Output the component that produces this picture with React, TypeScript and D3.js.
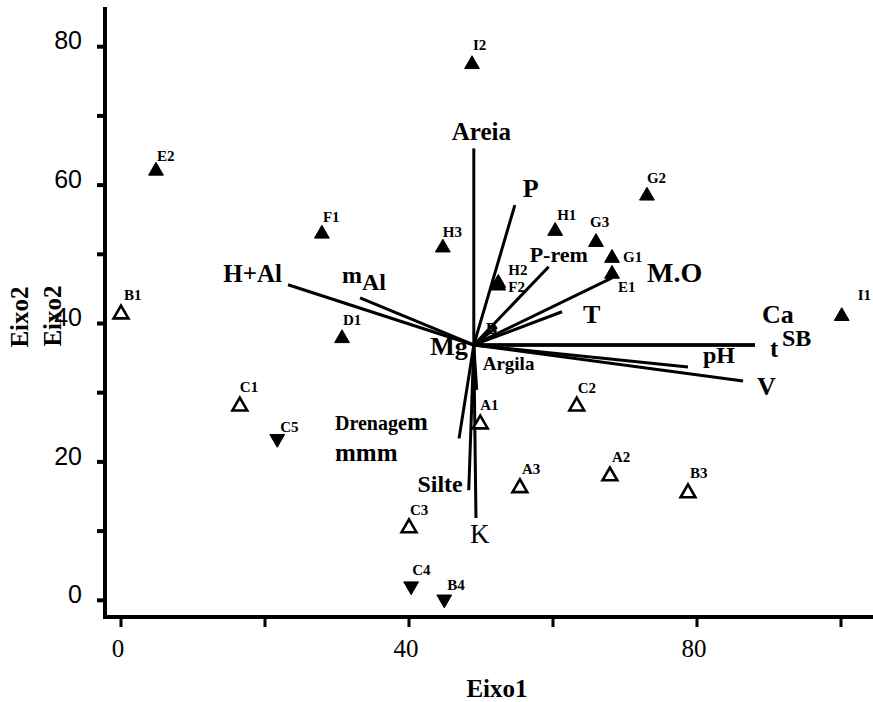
import React from "react";
import * as d3 from "d3";

// ---- data ----
const pointNames = ["E2", "I2", "F1", "H3", "H1", "G2", "G3", "G1", "E1", "H2", "F2", "I1", "D1",
  "B1", "C1", "A1", "C2", "A2", "B3", "A3", "C3", "C5", "C4", "B4"];
const pointX = [4.86, 48.75, 27.9, 44.7, 60.3, 73.05, 65.97, 68.2, 68.2, 52.4, 52.4, 100.1, 30.7,
  0.0, 16.5, 49.9, 63.3, 67.9, 78.75, 55.4, 40.0, 21.7, 40.3, 44.9];
const pointY = [62.2, 77.6, 53.1, 51.1, 53.5, 58.6, 51.9, 49.6, 47.3, 46.0, 45.6, 41.2, 38.0,
  41.5, 28.2, 25.6, 28.2, 18.1, 15.65, 16.4, 10.6, 23.2, 1.9, 0.0];
const pointGroup = ["up", "up", "up", "up", "up", "up", "up", "up", "up", "up", "up", "up", "up",
  "open", "open", "open", "open", "open", "open", "open", "open", "down", "down", "down"];

const origin = [49.0, 36.9];
const vectorNames = ["Areia", "P", "P-rem", "M.O", "T", "B", "Ca", "SB", "t", "pH", "V", "H+Al", "mAl",
  "Mg", "Argila", "Drenagem", "Silte", "K"];
const vectorX = [49.0, 54.7, 59.4, 68.2, 61.25, 52.2, 88.05, 88.05, 88.05, 78.75, 86.4, 23.2, 33.2,
  49.0, 49.4, 46.95, 48.3, 49.3];
const vectorY = [65.3, 57.1, 48.2, 46.6, 41.7, 39.5, 36.9, 36.9, 36.9, 33.7, 31.7, 45.6, 43.7,
  36.9, 30.4, 23.4, 15.9, 11.9];

const xTicks = [0, 20, 40, 60, 80, 100];
const xTickLabels = ["0", "", "40", "", "80", ""];
const yTicks = [0, 10, 20, 30, 40, 50, 60, 70, 80];
const yTickLabels = ["0", "", "20", "", "40", "", "60", "", "80"];
const xTitle = "Eixo1";
const yTitle = "Eixo2";

// ---- styles (pixel offsets for labels) ----
const pointLabelOffsets: Record<string, [number, number]> = {
  E2: [1, -9], I2: [1, -13], F1: [1, -11], H3: [0, -10], H1: [2, -10], G2: [0, -12],
  G3: [-6, -14], G1: [11, 5], E1: [6, 19], H2: [10, -7], F2: [10, 7], I1: [16, -15],
  D1: [1, -12], B1: [3, -13], C1: [0, -13], A1: [0, -13], C2: [1, -12], A2: [2, -13],
  B3: [2, -14], A3: [2, -13], C3: [1, -12], C5: [3, -8], C4: [1, -12], B4: [3, -10],
};
const vecLabelStyle: Record<string, { dx: number; dy: number; size: number; anchor?: string; weight?: string }> = {
  Areia: { dx: -22, dy: -8, size: 25 },
  P: { dx: 8, dy: -8, size: 26 },
  "P-rem": { dx: -19, dy: -5, size: 22 },
  "M.O": { dx: 35, dy: 4, size: 28 },
  T: { dx: 21, dy: 11, size: 26 },
  B: { dx: -11, dy: 7, size: 17 },
  Ca: { dx: 7, dy: -22, size: 26 },
  SB: { dx: 27, dy: 1, size: 24 },
  t: { dx: 15, dy: 12, size: 25 },
  pH: { dx: 15, dy: -4, size: 24 },
  V: { dx: 14, dy: 14, size: 26 },
  "H+Al": { dx: -6, dy: -3, size: 25, anchor: "end" },
  mAl: { dx: -18, dy: -15, size: 24 },
  Mg: { dx: -6, dy: 10, size: 26, anchor: "end" },
  Argila: { dx: 6, dy: -20, size: 19 },
  Drenagem: { dx: -124, dy: -8, size: 20 },
  Silte: { dx: -6, dy: 2, size: 24, anchor: "end" },
  K: { dx: -6, dy: 25, size: 27, weight: "normal" },
};

const W = 873;
const H = 702;
const FONT = "'Liberation Serif', 'DejaVu Serif', serif";

export default function App() {
  const x = d3.scaleLinear().domain([0, 100]).range([121, 841]);
  const y = d3.scaleLinear().domain([0, 80]).range([600.3, 46.7]);
  const axisX = 105;
  const axisY = 617;

  const tri = d3.symbol().type(d3.symbolTriangle).size(95);

  const ox = x(origin[0]);
  const oy = y(origin[1]);

  return (
    <svg width={W} height={H} style={{ position: "absolute", left: 0, top: 0, background: "#fff" }}
      fontFamily={FONT}>
      <rect x={0} y={0} width={W} height={H} fill="#fff" />
      {/* axes */}
      <line x1={axisX} y1={7} x2={axisX} y2={axisY + 2} stroke="#000" strokeWidth={4} />
      <line x1={axisX - 2} y1={axisY} x2={W} y2={axisY} stroke="#000" strokeWidth={4} />
      {yTicks.map((t, i) => (
        <g key={"yt" + i}>
          <line x1={axisX - 8} x2={axisX} y1={y(t)} y2={y(t)} stroke="#000" strokeWidth={4} />
          {yTickLabels[i] && (
            <text x={82} y={y(t) - 4} textAnchor="end" dominantBaseline="middle"
              fontFamily="'Liberation Sans', Arial, sans-serif" fontSize={25} fill="#000">
              {yTickLabels[i]}
            </text>
          )}
        </g>
      ))}
      {xTicks.map((t, i) => (
        <g key={"xt" + i}>
          <line x1={x(t)} x2={x(t)} y1={axisY} y2={axisY + 10} stroke="#000" strokeWidth={3} />
          {xTickLabels[i] && (
            <text x={x(t) - 3} y={657} textAnchor="middle" fontSize={25} fill="#000">
              {xTickLabels[i]}
            </text>
          )}
        </g>
      ))}
      <text x={497} y={697} textAnchor="middle" fontSize={25} fontWeight="bold" fill="#000">{xTitle}</text>
      <text transform="translate(28,317) rotate(-90)" textAnchor="middle" fontSize={25} fontWeight="bold" fill="#000">{yTitle}</text>
      <text transform="translate(61,316) rotate(-90)" textAnchor="middle" fontSize={25} fontWeight="bold" fill="#000">{yTitle}</text>

      {/* vectors */}
      {vectorNames.map((n, i) => {
        const ex = x(vectorX[i]);
        const ey = y(vectorY[i]);
        return <line key={"v" + i} x1={ox} y1={oy} x2={ex} y2={ey} stroke="#000" strokeWidth={3} />;
      })}
      {vectorNames.map((n, i) => {
        const ex = x(vectorX[i]);
        const ey = y(vectorY[i]);
        const s = vecLabelStyle[n];
        if (n === "mAl") {
          return (
            <text key={"vl" + i} x={ex + s.dx} y={ey + s.dy} fontSize={s.size} fontWeight="bold" fill="#000">
              m<tspan dy={7}>Al</tspan>
            </text>
          );
        }
        if (n === "Drenagem") {
          return (
            <text key={"vl" + i} x={ex + s.dx} y={ey + s.dy} fontSize={s.size} fontWeight="bold" fill="#000">
              Drenage<tspan fontSize={25}>m</tspan>
              <tspan x={ex + s.dx} dy={31} fontSize={25}>mmm</tspan>
            </text>
          );
        }
        return (
          <text key={"vl" + i} x={ex + s.dx} y={ey + s.dy} fontSize={s.size}
            fontWeight={s.weight || "bold"} textAnchor={s.anchor || "start"} fill="#000">
            {n}
          </text>
        );
      })}

      {/* points */}
      {pointNames.map((n, i) => {
        const px = x(pointX[i]);
        const py = y(pointY[i]);
        const g = pointGroup[i];
        const rot = g === "down" ? 180 : 0;
        return (
          <path key={"p" + i} d={tri() || ""}
            transform={`translate(${px},${py + (g === "down" ? -1 : 1)}) rotate(${rot})`}
            fill={g === "open" ? "#fff" : "#000"} stroke="#000" strokeWidth={g === "open" ? 2.6 : 1} />
        );
      })}
      {pointNames.map((n, i) => {
        const px = x(pointX[i]);
        const py = y(pointY[i]);
        const o = pointLabelOffsets[n] || [2, -12];
        return (
          <text key={"pl" + i} x={px + o[0]} y={py + o[1]} fontSize={15} fontWeight="bold" fill="#000">
            {n}
          </text>
        );
      })}
    </svg>
  );
}
